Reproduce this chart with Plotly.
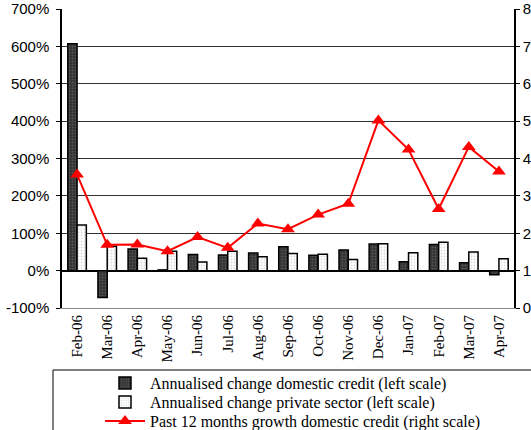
import plotly.graph_objects as go

months = ["Feb-06", "Mar-06", "Apr-06", "May-06", "Jun-06", "Jul-06", "Aug-06", "Sep-06",
          "Oct-06", "Nov-06", "Dec-06", "Jan-07", "Feb-07", "Mar-07", "Apr-07"]
domestic_credit = [607, -72, 58, 2, 43, 42, 47, 64, 41, 55, 71, 24, 70, 21, -11]
private_sector = [122, 65, 33, 52, 23, 52, 37, 46, 44, 30, 72, 48, 76, 50, 32]
growth_12m = [3.57, 1.69, 1.70, 1.52, 1.90, 1.61, 2.26, 2.11, 2.50, 2.79, 5.02, 4.24, 2.65, 4.31, 3.65]

left_ticks = list(range(-100, 701, 100))
left_labels = [f"{v}%" for v in left_ticks]
right_ticks = list(range(0, 9))

W, H = 531, 430
ml, mr, mt, mb = 62, 17, 9, 122
pw, ph = W - ml - mr, H - mt - mb

def px_x(p):
    return (p - ml) / pw

def px_y(p):
    return (H - mb - p) / ph

n = len(months)
boundaries = [i - 0.5 for i in range(1, n)]

fig = go.Figure()
fig.add_trace(go.Bar(
    x=months, y=domestic_credit, name="Annualised change domestic credit (left scale)",
    legend="legend",
    marker=dict(color="#3a3a3a", line=dict(color="black", width=1.5),
                pattern=dict(shape=".", bgcolor="#333333", fgcolor="#777777", size=3, solidity=0.3)),
))
fig.add_trace(go.Bar(
    x=months, y=private_sector, name="Annualised change private sector (left scale)",
    legend="legend2",
    marker=dict(color="white", line=dict(color="black", width=1.5),
                pattern=dict(shape=".", bgcolor="white", fgcolor="#bbbbbb", size=3, solidity=0.3)),
))
fig.add_trace(go.Scatter(
    x=months, y=growth_12m, name="Past 12 months growth domestic credit (right scale)",
    mode="lines+markers", yaxis="y2", legend="legend3",
    line=dict(color="#ff0000", width=2),
    marker=dict(symbol="triangle-up", size=12, color="#ff0000"),
))

legend_common = dict(xanchor="left", yanchor="middle",
                     font=dict(family="Liberation Serif", size=16, color="black"),
                     bgcolor="rgba(0,0,0,0)", borderwidth=0, itemwidth=40)

fig.update_layout(
    width=W, height=H,
    margin=dict(l=ml, r=mr, t=mt, b=mb, autoexpand=False),
    paper_bgcolor="white", plot_bgcolor="white",
    barmode="group", bargap=0.385, bargroupgap=0,
    showlegend=True,
    legend=dict(x=px_x(100), y=px_y(383), **legend_common),
    legend2=dict(x=px_x(100), y=px_y(402), **legend_common),
    legend3=dict(x=px_x(100), y=px_y(421), **legend_common),
    xaxis=dict(type="category", categoryorder="array", categoryarray=months,
               range=[-0.5, n - 0.5], automargin=False,
               showline=True, linecolor="#888888", linewidth=1, ticks="",
               tickangle=-90, tickfont=dict(family="Liberation Serif", size=15, color="black"),
               showgrid=False),
    xaxis2=dict(type="linear", range=[-0.5, n - 0.5], overlaying="x", anchor="free",
                position=0.125, showticklabels=False, ticks="outside", ticklen=4,
                tickcolor="black", tickvals=boundaries, showline=False, showgrid=False,
                zeroline=False, automargin=False),
    yaxis=dict(range=[-100, 700], tickvals=left_ticks, ticktext=left_labels,
               showgrid=True, gridcolor="#333333", gridwidth=1, automargin=False,
               zeroline=True, zerolinecolor="black", zerolinewidth=1.5,
               showline=True, linecolor="black", linewidth=1.5,
               ticks="outside", ticklen=4, tickcolor="black", ticklabelstandoff=4,
               tickfont=dict(family="Liberation Sans", size=15, color="black")),
    yaxis2=dict(range=[0, 8], tickvals=right_ticks, overlaying="y", side="right",
                showgrid=False, zeroline=False, automargin=False,
                showline=True, linecolor="black", linewidth=1.5,
                ticks="outside", ticklen=4, tickcolor="black", ticklabeloverflow="allow",
                tickfont=dict(family="Liberation Sans", size=15, color="black")),
    shapes=[dict(type="rect", xref="paper", yref="paper",
                 x0=px_x(53), x1=px_x(545), y0=px_y(370), y1=px_y(445),
                 line=dict(color="black", width=1), fillcolor="rgba(0,0,0,0)")],
)

fig.write_html("out.html", config={"displayModeBar": False},
               post_script="document.body.style.margin='0';")
